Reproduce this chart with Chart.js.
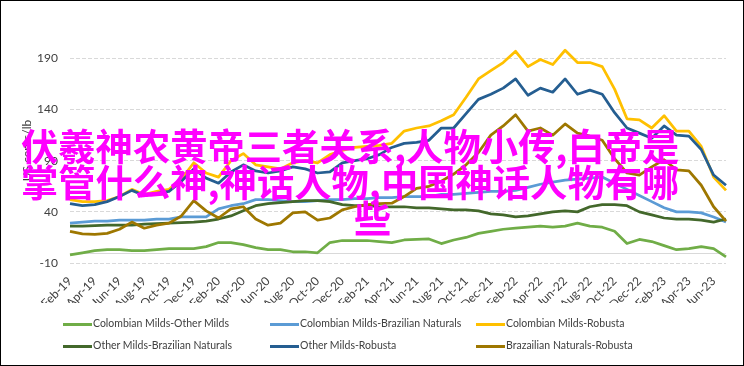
<!DOCTYPE html>
<html>
<head>
<meta charset="utf-8">
<script src="https://cdn.jsdelivr.net/npm/chart.js@4.4.1/dist/chart.umd.min.js"></script>
<style>
  html, body { margin: 0; padding: 0; background: #fff; }
  #wrap { position: relative; width: 744px; height: 366px; overflow: hidden; font-family: Lato, "Open Sans", sans-serif; }
  #frame { position: absolute; left: 0; top: 0; width: 744px; height: 366px; box-sizing: border-box; border: 1px solid #000; pointer-events: none; z-index: 4; }
  #chart { position: absolute; left: 0; top: 0; }
  .item { position: absolute; font-size: 10.5px; line-height: 14px; color: #404040; white-space: nowrap; }
  .item i { display: inline-block; width: 29px; height: 3px; vertical-align: middle; margin-right: 1px; }
  #mark { position: absolute; left: 21px; top: 127px; z-index: 3; font-family: "Noto Sans CJK SC"; font-weight: 700; font-size: 37.3px; line-height: 36px; color: #ff00ff; white-space: nowrap; }
</style>
</head>
<body>
<div id="wrap">
  <canvas id="chart" width="744" height="366"></canvas>
  <div id="legend"></div>
  <div id="mark">伏羲神农黄帝三者关系,人物小传,白帝是<br>掌管什么神,神话人物,中国神话人物有哪<br><span style="margin-left:333px">些</span></div>
  <div id="frame"></div>
</div>
<script>
// monthly differentials, US cents/lb
const months = [
  'Feb-19','Mar-19','Apr-19','May-19','Jun-19','Jul-19','Aug-19','Sep-19','Oct-19','Nov-19','Dec-19',
  'Jan-20','Feb-20','Mar-20','Apr-20','May-20','Jun-20','Jul-20','Aug-20','Sep-20','Oct-20','Nov-20','Dec-20',
  'Jan-21','Feb-21','Mar-21','Apr-21','May-21','Jun-21','Jul-21','Aug-21','Sep-21','Oct-21','Nov-21','Dec-21',
  'Jan-22','Feb-22','Mar-22','Apr-22','May-22','Jun-22','Jul-22','Aug-22','Sep-22','Oct-22','Nov-22','Dec-22',
  'Jan-23','Feb-23','Mar-23','Apr-23','May-23','Jun-23','Jul-23'
];

const cmOm = [-2, 0, 2, 3, 3, 2, 2, 3, 4, 4, 4, 6, 10, 10, 8, 5,
  3, 3, 1, 1, 0, 10, 12, 12, 12, 11, 10, 12.5, 13, 13.5, 9, 12.5, 15, 19,
  21, 23, 24, 25, 26, 25, 26, 29, 26, 25, 21, 9, 13, 11, 7, 3, 4, 6, 4, -4];

const cmBn = [29, 30, 31, 31, 32, 32, 32, 33, 33, 35, 35, 35, 43, 46, 48, 52,
  52, 51, 50, 50, 51, 52, 52, 53, 53, 54, 54, 55, 55, 55, 57, 57, 58, 59,
  60, 60, 61, 64, 67, 69, 71, 72, 73, 74, 68, 62, 56, 50, 44, 40, 40, 39, 35, 30];

const cmRob = [52, 50, 50, 51, 55, 62, 57, 60, 62, 72, 88, 78, 74, 90, 97, 86,
  84, 82, 88, 90, 88, 96, 100, 103, 104, 105, 107, 119, 122, 124, 129, 135, 152, 170,
  178, 186, 197, 182, 189, 184, 198, 186, 186, 182, 160, 131, 130, 122, 134, 119, 119, 104, 74, 61];

const omBn = [26, 26, 26.5, 27, 27, 27, 28, 28.5, 29, 29.5, 30, 31, 33, 36, 41, 46,
  48, 49, 50, 51, 51, 50, 47, 46, 46, 45, 45, 45, 44, 44, 43, 42, 42, 41,
  38, 37, 35, 36, 38, 40, 41, 40, 45, 47, 47, 46, 40, 37, 34, 33, 33, 32, 30, 33];

const omRob = [48, 46, 47, 50, 55, 61, 56, 58, 60, 70, 82, 73, 68, 79, 86, 80,
  78, 80, 84, 82, 78, 79, 88, 90, 92, 96, 103, 107, 108, 110, 122, 122, 136, 150,
  155, 161, 170, 154, 161, 157, 170, 155, 159, 155, 137, 122, 117, 112, 124, 115, 114, 101, 76, 66];

const bnRob = [21, 18.5, 18, 19, 23, 30, 24, 27, 29, 36, 51, 41, 34, 43, 45, 33,
  27, 29, 39, 40, 32, 34, 42, 45, 47, 48, 48.5, 55, 63, 65, 70, 77, 86, 98,
  115, 124, 135, 119, 122, 115, 126, 117, 114, 110, 92, 78, 76, 84, 91, 81, 80, 66, 45, 31];

const seriesNames = [
  'Colombian Milds-Other Milds', 'Colombian Milds-Brazilian Naturals', 'Colombian Milds-Robusta',
  'Other Milds-Brazilian Naturals', 'Other Milds-Robusta', 'Brazailian Naturals-Robusta'
];
const seriesData = [cmOm, cmBn, cmRob, omBn, omRob, bnRob];
const seriesColors = ['#70ad47', '#5b9bd5', '#ffc000', '#43682b', '#255e91', '#9e7700'];

const yTicks = [-10, 40, 90, 140, 190];

Chart.defaults.font.family = 'Lato, "Open Sans", sans-serif';
Chart.defaults.font.size = 11;
Chart.defaults.color = '#404040';

// horizontal axis line crosses at zero (solid, not dashed)
const zeroLine = {
  id: 'zeroLine',
  beforeDatasetsDraw(chart) {
    const { ctx, chartArea, scales } = chart;
    const py = Math.round(scales.y.getPixelForValue(0)) + 0.5;
    ctx.save();
    ctx.strokeStyle = '#d9d9d9';
    ctx.lineWidth = 1;
    ctx.beginPath();
    ctx.moveTo(chartArea.left, py);
    ctx.lineTo(chartArea.right, py);
    ctx.stroke();
    ctx.restore();
  }
};

const chart = new Chart(document.getElementById('chart'), {
  type: 'line',
  data: {
    labels: months,
    datasets: seriesNames.map((name, i) => ({
      label: name,
      data: seriesData[i],
      borderColor: seriesColors[i],
      backgroundColor: seriesColors[i],
      borderWidth: 2.75,
      borderJoinStyle: 'round',
      pointRadius: 0,
      tension: 0,
      order: seriesNames.length - i   // later series on top, like Excel
    }))
  },
  options: {
    responsive: false,
    animation: false,
    events: [],
    layout: { padding: { top: 38, right: 18, bottom: 63, left: 0 } },
    plugins: { legend: { display: false }, tooltip: { enabled: false } },
    scales: {
      x: {
        grid: { display: false },
        border: { display: false },
        ticks: {
          autoSkip: false,
          minRotation: 45,
          maxRotation: 45,
          padding: 3,
          font: { size: 12 },
          callback: function (val, idx) { return idx % 2 === 0 ? this.getLabelForValue(val) : null; }
        },
        afterFit: s => { s.height = 40; s.paddingLeft = 0; s.paddingRight = 0; }
      },
      y: {
        min: -10,
        max: 210,
        afterBuildTicks: s => { s.ticks = yTicks.map(v => ({ value: v })); },
        afterFit: s => { s.width = 70; s.paddingTop = 0; s.paddingBottom = 0; },
        grid: { color: '#d9d9d9', drawTicks: false },
        border: { display: false, dash: [4, 2] },
        ticks: { padding: 12, font: { size: 12 } },
        title: { display: true, text: 'US cents/lb', padding: { top: 20, bottom: 0 }, font: { size: 12 } }
      }
    }
  },
  plugins: [zeroLine]
});

// legend: 3 columns x 2 rows under the chart
const legendCols = [63, 270, 476];
const legendRows = [316, 338];
const legendBox = document.getElementById('legend');
chart.data.datasets.forEach((ds, i) => {
  const el = document.createElement('div');
  el.className = 'item';
  el.style.left = legendCols[i % 3] + 'px';
  el.style.top = legendRows[Math.floor(i / 3)] + 'px';
  el.innerHTML = '<i style="background:' + ds.borderColor + '"></i>' + ds.label;
  legendBox.appendChild(el);
});
</script>
</body>
</html>
